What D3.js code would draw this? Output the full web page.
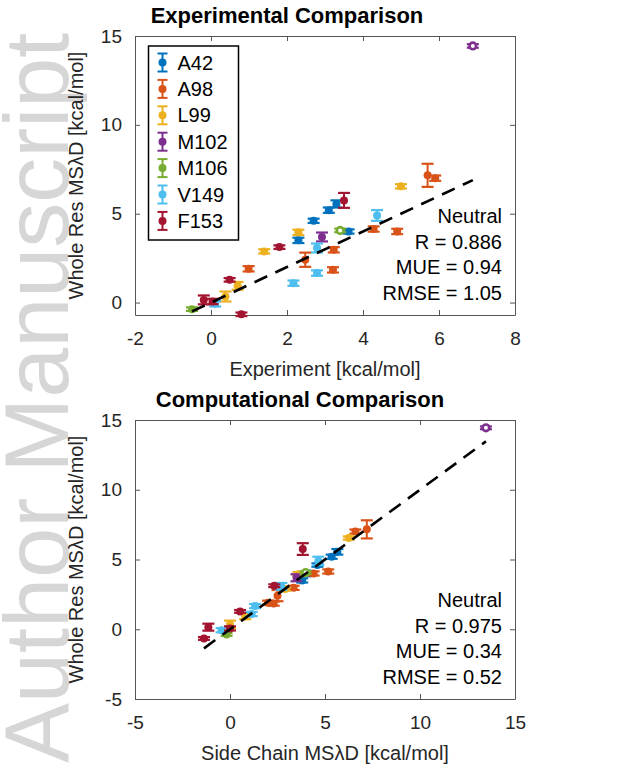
<!DOCTYPE html>
<html>
<head>
<meta charset="utf-8">
<script src="https://cdn.jsdelivr.net/npm/d3@7"></script>
<style>
  body { margin: 0; background: #fff; }
  svg { font-family: "Liberation Sans", Arial, Helvetica, sans-serif; }
</style>
</head>
<body>
<script>
// residue groups, in legend order
var residues = ["A42", "A98", "L99", "M102", "M106", "V149", "F153"];
var colors = ["#0072BD", "#D95319", "#EDB120", "#7E2F8E", "#77AC30", "#4DBEEE", "#A2142F"];

// whole residue MSλD value (y in both panels), one list per residue
var wholeRes = [
    [5.55, 5.20, 4.60, 3.50, 4.00],
    [7.16, 7.00, 4.14, 4.00, 2.97, 1.84, 2.41, 1.90],
    [6.54, 3.95, 2.88, 0.94, 0.34],
    [14.44, 3.69],
    [4.06, -0.37],
    [4.90, 3.07, 1.66, 1.09, -0.07],
    [5.75, 3.12, 1.28, 0.15, 0.06, -0.66]
];
// error bar half size
var wholeErr = [
    [0.20, 0.15, 0.12, 0.15, 0.12],
    [0.65, 0.15, 0.15, 0.15, 0.15, 0.15, 0.40, 0.15],
    [0.12, 0.15, 0.12, 0.22, 0.28],
    [0.10, 0.25],
    [0.10, 0.10],
    [0.30, 0.25, 0.15, 0.15, 0.15],
    [0.42, 0.10, 0.10, 0.25, 0.15, 0.10]
];
// experiment (top panel x)
var experiment = [
    [3.30, 3.10, 2.70, 2.30, 3.62],
    [5.70, 5.90, 4.28, 4.90, 3.23, 3.21, 2.48, 0.99],
    [5.00, 2.30, 1.40, 0.70, 0.38],
    [6.89, 2.92],
    [3.40, -0.50],
    [4.37, 2.79, 2.79, 2.17, 0.11],
    [3.50, 1.80, 0.49, -0.19, 0.04, 0.80]
];
// side chain MSλD (bottom panel x)
var sideChain = [
    [5.65, 5.35, 4.60, 3.80, 4.20],
    [7.20, 6.60, 5.17, 4.40, 3.35, 2.30, 2.50, 2.00],
    [6.25, 3.60, 2.90, 0.80, 0.00],
    [13.47, 3.50],
    [3.98, -0.18],
    [4.65, 2.70, 1.32, 1.14, -0.44],
    [3.83, 2.33, 0.53, -1.14, 0.00, -1.37]
];
// open markers
var hollow = [
    [0, 0, 0, 0, 0],
    [0, 0, 0, 0, 0, 0, 0, 0],
    [0, 0, 0, 0, 0],
    [1, 0],
    [1, 0],
    [0, 0, 0, 0, 0],
    [0, 0, 0, 0, 0, 0]
];

var statsExp = ["Neutral", "R = 0.886", "MUE = 0.94", "RMSE = 1.05"];
var statsComp = ["Neutral", "R = 0.975", "MUE = 0.34", "RMSE = 0.52"];

var expXTicks = [-2, 0, 2, 4, 6, 8];
var expYTicks = [0, 5, 10, 15];
var compXTicks = [-5, 0, 5, 10, 15];
var compYTicks = [-5, 0, 5, 10, 15];

var width = 624, height = 768;
var left = 135, right = 515;

var svg = d3.select("body")
    .append("svg")
    .attr("width", width)
    .attr("height", height);

// watermark
svg.append("text")
    .attr("transform", "translate(68,763) rotate(-90)")
    .attr("font-size", 90)
    .attr("fill", "#d6d6d6")
    .text("Author Manuscript");

var drawPanel = (o) => {
    var x = d3.scaleLinear().domain(o.xDomain).range([left, right]);
    var y = d3.scaleLinear().domain(o.yDomain).range([o.bottom, o.top]);
    var g = svg.append("g");
    var fmt = d => String(d); // plain hyphen minus like matlab

    // axes box with inward ticks
    var axes = [
        [d3.axisBottom(x).tickValues(o.xTicks).tickFormat(fmt).tickPadding(17), "translate(0," + o.bottom + ")"],
        [d3.axisTop(x).tickValues(o.xTicks).tickFormat(""), "translate(0," + o.top + ")"],
        [d3.axisLeft(y).tickValues(o.yTicks).tickFormat(fmt).tickPadding(13), "translate(" + left + ",0)"],
        [d3.axisRight(y).tickValues(o.yTicks).tickFormat(""), "translate(" + right + ",0)"]
    ];
    axes.forEach(a => {
        var ax = g.append("g")
            .attr("transform", a[1])
            .call(a[0].tickSize(-5).tickSizeOuter(0));
        ax.select(".domain").attr("stroke", "#555").attr("stroke-width", 1);
        ax.selectAll(".tick line").attr("stroke", "#555");
        ax.selectAll("text")
            .attr("font-size", 19)
            .attr("font-family", "Liberation Sans, Arial, sans-serif")
            .attr("fill", "#262626");
    });

    // title + labels
    g.append("text")
        .attr("x", o.titleX)
        .attr("y", o.top - 13)
        .attr("text-anchor", "middle")
        .attr("font-weight", "bold")
        .attr("font-size", 22)
        .text(o.title);
    g.append("text")
        .attr("x", (left + right) / 2)
        .attr("y", o.bottom + 61)
        .attr("text-anchor", "middle")
        .attr("font-size", 20)
        .attr("fill", "#262626")
        .text(o.xLabel);
    g.append("text")
        .attr("transform", "translate(83," + (o.top + o.bottom) / 2 + ") rotate(-90)")
        .attr("text-anchor", "middle")
        .attr("font-size", 20)
        .attr("fill", "#262626")
        .text("Whole Res MSλD [kcal/mol]");

    // points with error bars
    residues.forEach((r, i) => {
        var c = colors[i];
        var pts = wholeRes[i].map((v, j) => ({ x: o.xs[i][j], y: v, e: wholeErr[i][j], h: hollow[i][j] }));
        var pg = g.append("g").selectAll("g").data(pts).enter().append("g");
        pg.append("line")
            .attr("x1", d => x(d.x)).attr("x2", d => x(d.x))
            .attr("y1", d => y(d.y - d.e)).attr("y2", d => y(d.y + d.e))
            .attr("stroke", c).attr("stroke-width", 2);
        [-1, 1].forEach(s => {
            pg.append("line")
                .attr("x1", d => x(d.x) - 6).attr("x2", d => x(d.x) + 6)
                .attr("y1", d => y(d.y + s * d.e)).attr("y2", d => y(d.y + s * d.e))
                .attr("stroke", c).attr("stroke-width", 2.2);
        });
        pg.append("circle")
            .attr("cx", d => x(d.x)).attr("cy", d => y(d.y))
            .attr("r", d => d.h ? 3.3 : 4)
            .attr("fill", d => d.h ? "#fff" : c)
            .attr("stroke", c)
            .attr("stroke-width", d => d.h ? 2.6 : 0);
    });

    // y = x reference over the data range
    var allX = d3.merge(o.xs);
    var ext = d3.extent(allX);
    g.append("line")
        .attr("x1", x(ext[0])).attr("y1", y(ext[0]))
        .attr("x2", x(ext[1])).attr("y2", y(ext[1]))
        .attr("stroke", "#000")
        .attr("stroke-width", 2.6)
        .attr("stroke-dasharray", "14,9");

    // stats
    g.selectAll(".stat")
        .data(o.stats)
        .enter().append("text")
        .attr("x", 502)
        .attr("y", (d, k) => o.bottom - 15 - (o.stats.length - 1 - k) * 25.7)
        .attr("text-anchor", "end")
        .attr("font-size", 20)
        .attr("fill", "#000")
        .text(d => d);

    return g;
};

var top1 = drawPanel({
    top: 36, bottom: 315,
    xDomain: [-2, 8], yDomain: [-0.7, 15],
    xTicks: expXTicks, yTicks: expYTicks,
    xs: experiment,
    title: "Experimental Comparison", titleX: 287,
    xLabel: "Experiment [kcal/mol]",
    stats: statsExp
});

drawPanel({
    top: 420, bottom: 699,
    xDomain: [-5, 15], yDomain: [-5, 15],
    xTicks: compXTicks, yTicks: compYTicks,
    xs: sideChain,
    title: "Computational Comparison", titleX: 300,
    xLabel: "Side Chain MSλD [kcal/mol]",
    stats: statsComp
});

// legend
var lg = top1.append("g").attr("transform", "translate(148.5,46)");
lg.append("rect")
    .attr("width", 90).attr("height", 194)
    .attr("fill", "#fff").attr("stroke", "#000").attr("stroke-width", 1.5);
var items = lg.selectAll(".item")
    .data(residues)
    .enter().append("g")
    .attr("transform", (d, i) => "translate(14," + (16.5 + i * 26.4) + ")");
items.append("line")
    .attr("y1", -9).attr("y2", 9)
    .attr("stroke", (d, i) => colors[i]).attr("stroke-width", 2);
[-9, 9].forEach(s => {
    items.append("line")
        .attr("x1", -5).attr("x2", 5).attr("y1", s).attr("y2", s)
        .attr("stroke", (d, i) => colors[i]).attr("stroke-width", 2);
});
items.append("circle")
    .attr("r", 4)
    .attr("fill", (d, i) => colors[i]);
items.append("text")
    .attr("x", 15)
    .attr("dy", "0.35em")
    .attr("font-size", 20)
    .text(d => d);
</script>
</body>
</html>
